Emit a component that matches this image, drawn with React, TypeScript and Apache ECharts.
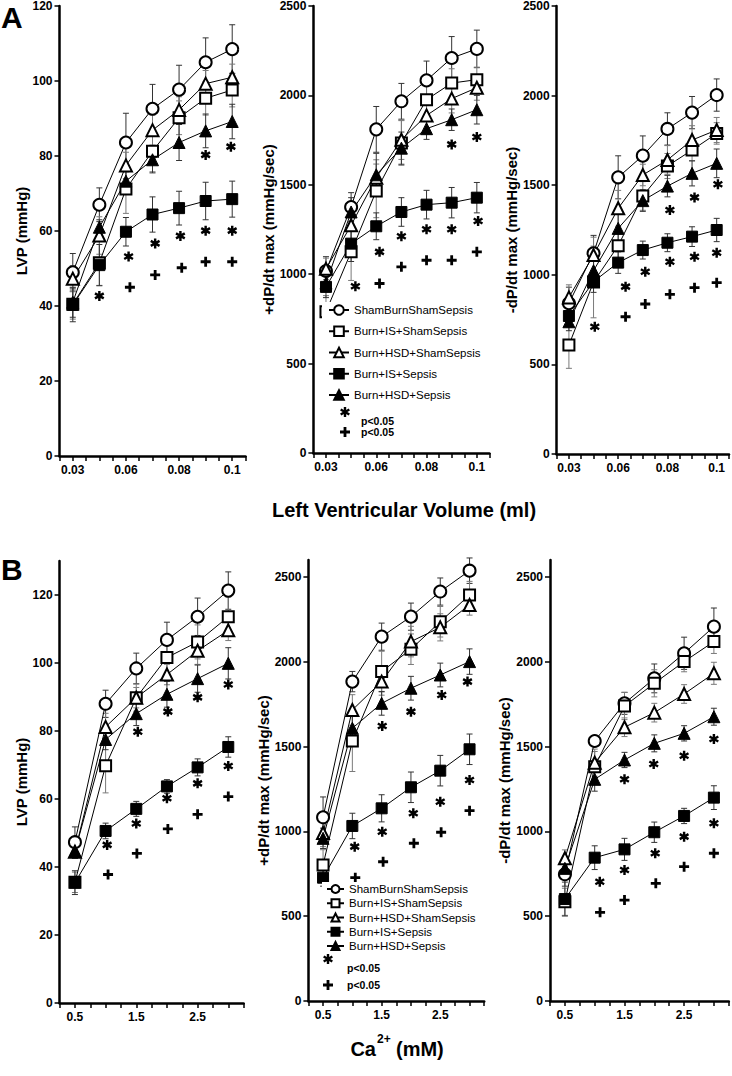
import React, { useEffect, useRef } from 'react';
import * as echarts from 'echarts';

const FONT = "'Liberation Sans', Arial, Helvetica, sans-serif";

// ---------- categories / tick labels ----------
const seriesNames = [
  'ShamBurnShamSepsis',
  'Burn+IS+ShamSepsis',
  'Burn+HSD+ShamSepsis',
  'Burn+IS+Sepsis',
  'Burn+HSD+Sepsis',
];
const volumeTicks = ['0.03', '', '0.06', '', '0.08', '', '0.1'];
const calciumTicks = ['0.5', '', '1.5', '', '2.5', ''];
const lvpTicksB = [0, 20, 40, 60, 80, 100, 120];
const dpTicksB = [0, 500, 1000, 1500, 2000, 2500];

// ---------- Panel A: LVP ----------
const a1Sham = [49, 67, 83.6, 92.6, 97.7, 105, 108.5];
const a1IsSham = [40.5, 51.5, 71.2, 81.3, 90.2, 95.4, 97.6];
const a1HsdSham = [47.3, 58.8, 77.5, 86.9, 92.3, 99.3, 101];
const a1IsSepsis = [40.3, 50.9, 59.8, 64.4, 66.1, 68, 68.5];
const a1HsdSepsis = [41, 61, 73.3, 79, 83.6, 86.7, 89.2];
const a1ShamErr = [5, 4.5, 7.8, 6.5, 6.5, 6.5, 6.5];
const a1IsShamErr = [4, 6, 6.5, 5.5, 4.5, 4.5, 4.5];
const a1HsdShamErr = [3.5, 5, 3.5, 4, 3.5, 3.5, 3.5];
const a1IsSepsisErr = [4.5, 5.5, 3.8, 4.7, 4.5, 5, 4.8];
const a1HsdSepsisErr = [4, 2, 3, 3.5, 4.8, 4.5, 4.6];
const a1Star = [[1, 42.7], [2.1, 53.2], [3.1, 56.7], [4.05, 58.7], [5, 60.1], [6, 60.1], [5, 80.3], [5.95, 82.5]];
const a1Plus = [[2.15, 45], [3.1, 48.3], [4.1, 50.2], [5, 51.8], [6, 51.8]];

// ---------- Panel A: +dP/dt ----------
const a2Sham = [1018, 1376, 1810, 1967, 2084, 2209, 2260];
const a2IsSham = [790, 1125, 1466, 1734, 1976, 2069, 2088];
const a2HsdSham = [1030, 1274, 1540, 1752, 1888, 1982, 2043];
const a2IsSepsis = [929, 1171, 1268, 1348, 1389, 1400, 1428];
const a2HsdSepsis = [950, 1348, 1556, 1705, 1814, 1864, 1920];
const a2ShamErr = [80, 80, 128, 100, 108, 120, 105];
const a2IsShamErr = [90, 160, 150, 125, 100, 80, 70];
const a2HsdShamErr = [60, 110, 100, 110, 80, 80, 70];
const a2IsSepsisErr = [60, 100, 75, 80, 80, 85, 85];
const a2HsdSepsisErr = [40, 80, 120, 90, 60, 60, 80];
const a2Star = [[1.17, 933], [2.13, 1125], [3, 1212], [4, 1251], [5, 1251], [6.05, 1298], [5, 1726], [6, 1767]];
const a2Plus = [[2.13, 948], [3, 1041], [4, 1078], [5, 1078], [6, 1125]];

// ---------- Panel A: -dP/dt ----------
const a3Sham = [841, 1120, 1544, 1665, 1814, 1905, 2003];
const a3IsSham = [608, 960, 1162, 1440, 1607, 1696, 1789];
const a3HsdSham = [874, 1110, 1371, 1557, 1641, 1752, 1808];
const a3IsSepsis = [770, 962, 1068, 1138, 1179, 1213, 1250];
const a3HsdSepsis = [738, 1023, 1259, 1414, 1495, 1566, 1622];
const a3ShamErr = [90, 100, 120, 110, 90, 90, 90];
const a3IsShamErr = [130, 200, 80, 80, 70, 60, 60];
const a3HsdShamErr = [70, 100, 100, 60, 80, 80, 70];
const a3IsSepsisErr = [60, 60, 60, 50, 50, 55, 65];
const a3HsdSepsisErr = [50, 60, 80, 60, 60, 70, 80];
const a3Star = [[1.05, 710], [2.3, 934], [3.1, 1017], [4.1, 1073], [5.1, 1101], [6, 1123], [4.1, 1362], [5.1, 1432], [6.05, 1505]];
const a3Plus = [[2.3, 766], [3.1, 837], [4.1, 891], [5.1, 928], [6, 956]];

// ---------- Panel B: LVP ----------
const b1Sham = [47.3, 88, 98.4, 106.8, 113.6, 121.3];
const b1IsSham = [35.5, 69.8, 89.8, 101.6, 106.2, 113.6];
const b1HsdSham = [44.5, 81.2, 89.8, 96.6, 103.6, 109.6];
const b1IsSepsis = [35.4, 50.6, 57.1, 63.7, 69.3, 75.3];
const b1HsdSepsis = [44.6, 77.5, 85.1, 90.8, 95.4, 99.9];
const b1ShamErr = [4.5, 4, 4.5, 5.2, 5.5, 5.5];
const b1IsShamErr = [3, 8, 4, 4.5, 5, 5.8];
const b1HsdShamErr = [2, 4, 3, 3, 4, 3];
const b1IsSepsisErr = [3.5, 2.3, 2.2, 2, 2.5, 3];
const b1HsdSepsisErr = [2, 3, 3.5, 3.8, 4, 4.6];
const b1Star = [[1.05, 46.5], [2, 52.8], [3, 60.2], [4, 64.6], [5, 69.7], [2.05, 79.8], [3.03, 85.7], [4, 89.9], [5, 93.7]];
const b1Plus = [[1.08, 37.8], [2.02, 44], [3.03, 51.2], [4, 55.5], [5, 60.7]];

// ---------- Panel B: +dP/dt ----------
const b2Sham = [1083, 1883, 2148, 2266, 2414, 2537];
const b2IsSham = [802, 1533, 1942, 2074, 2236, 2394];
const b2HsdSham = [990, 1716, 1883, 2119, 2203, 2335];
const b2IsSepsis = [727, 1032, 1136, 1260, 1358, 1484];
const b2HsdSepsis = [959, 1608, 1755, 1844, 1922, 2001];
const b2ShamErr = [120, 60, 80, 80, 80, 75];
const b2IsShamErr = [90, 180, 120, 90, 90, 80];
const b2HsdShamErr = [80, 90, 80, 90, 80, 60];
const b2IsSepsisErr = [50, 75, 80, 90, 90, 90];
const b2HsdSepsisErr = [60, 70, 70, 70, 70, 75];
const b2Star = [[1.08, 910], [2.02, 998], [3.08, 1107], [4, 1175], [5, 1303], [2.02, 1621], [3, 1706], [4.05, 1804], [4.93, 1883]];
const b2Plus = [[1.1, 727], [2.05, 821], [3.1, 930], [4.03, 995], [5, 1122]];

// ---------- Panel B: -dP/dt ----------
const b3Sham = [747, 1533, 1755, 1902, 2050, 2207];
const b3IsSham = [585, 1381, 1739, 1873, 2001, 2119];
const b3HsdSham = [841, 1405, 1614, 1700, 1810, 1932];
const b3IsSepsis = [601, 845, 894, 995, 1091, 1199];
const b3HsdSepsis = [782, 1307, 1421, 1519, 1578, 1676];
const b3ShamErr = [70, 30, 65, 85, 95, 110];
const b3IsShamErr = [80, 90, 80, 80, 60, 70];
const b3HsdShamErr = [50, 80, 55, 55, 55, 65];
const b3IsSepsisErr = [100, 70, 65, 60, 45, 70];
const b3HsdSepsisErr = [50, 70, 45, 50, 45, 50];
const b3Star = [[1.17, 703], [2, 772], [3.03, 871], [4, 969], [5, 1048], [2, 1307], [2.98, 1397], [4, 1446], [5, 1545]];
const b3Plus = [[1.18, 523], [2, 595], [3.05, 694], [4, 792], [5, 871]];

// ---------- marks ----------
const ASTERISK =
  'M3.8,0L6.2,0L6.2,10L3.8,10Z M8.73,1.46L9.93,3.54L1.27,8.54L0.07,6.46Z M9.93,6.46L8.73,8.54L0.07,3.54L1.27,1.46Z';
const PLUS = 'M3.6,0L6.4,0L6.4,3.6L10,3.6L10,6.4L6.4,6.4L6.4,10L3.6,10L3.6,6.4L0,6.4L0,3.6L3.6,3.6Z';

try {
  echarts.graphic.registerShape('asteriskMark', echarts.graphic.extendPath(ASTERISK, {}));
  echarts.graphic.registerShape('plusMark', echarts.graphic.extendPath(PLUS, {}));
} catch (e) {
  /* already registered */
}

const symbols = ['emptyCircle', 'emptyRect', 'emptyTriangle', 'rect', 'triangle'];
const symbolSizes = [12, 11, 12, 11, 12];
const errColors = ['#333', '#7a7a7a', '#7a7a7a', '#333', '#333'];

const panels = [
  {
    grid: { left: 59.5, top: 6, width: 186, height: 450 },
    yMax: 120, yStep: 20, yTicks: null, xMax: 6.5, xLabels: volumeTicks,
    yName: 'LVP (mmHg)', nameGap: 22,
    values: [a1Sham, a1IsSham, a1HsdSham, a1IsSepsis, a1HsdSepsis],
    errors: [a1ShamErr, a1IsShamErr, a1HsdShamErr, a1IsSepsisErr, a1HsdSepsisErr],
    stars: a1Star, plus: a1Plus,
  },
  {
    grid: { left: 313.4, top: 5.5, width: 176, height: 447.5 },
    yMax: 2500, yStep: 500, yTicks: null, xMax: 6.5, xLabels: volumeTicks,
    yName: '+dP/dt max (mmHg/sec)', nameGap: 31,
    values: [a2Sham, a2IsSham, a2HsdSham, a2IsSepsis, a2HsdSepsis],
    errors: [a2ShamErr, a2IsShamErr, a2HsdShamErr, a2IsSepsisErr, a2HsdSepsisErr],
    stars: a2Star, plus: a2Plus,
  },
  {
    grid: { left: 556.6, top: 6, width: 174, height: 448 },
    yMax: 2500, yStep: 500, yTicks: null, xMax: 6.5, xLabels: volumeTicks,
    yName: '-dP/dt max (mmHg/sec)', nameGap: 37,
    values: [a3Sham, a3IsSham, a3HsdSham, a3IsSepsis, a3HsdSepsis],
    errors: [a3ShamErr, a3IsShamErr, a3HsdShamErr, a3IsSepsisErr, a3HsdSepsisErr],
    stars: a3Star, plus: a3Plus,
  },
  {
    grid: { left: 59.6, top: 561, width: 184, height: 442 },
    yMax: 130, yStep: 20, yTicks: lvpTicksB, xMax: 5.5, xLabels: calciumTicks,
    yName: 'LVP (mmHg)', nameGap: 27,
    values: [b1Sham, b1IsSham, b1HsdSham, b1IsSepsis, b1HsdSepsis],
    errors: [b1ShamErr, b1IsShamErr, b1HsdShamErr, b1IsSepsisErr, b1HsdSepsisErr],
    stars: b1Star, plus: b1Plus,
  },
  {
    grid: { left: 308.4, top: 560, width: 175.8, height: 441 },
    yMax: 2600, yStep: 500, yTicks: dpTicksB, xMax: 5.5, xLabels: calciumTicks,
    yName: '+dP/dt max (mmHg/sec)', nameGap: 30,
    values: [b2Sham, b2IsSham, b2HsdSham, b2IsSepsis, b2HsdSepsis],
    errors: [b2ShamErr, b2IsShamErr, b2HsdShamErr, b2IsSepsisErr, b2HsdSepsisErr],
    stars: b2Star, plus: b2Plus,
  },
  {
    grid: { left: 550, top: 560, width: 178.8, height: 441 },
    yMax: 2600, yStep: 500, yTicks: dpTicksB, xMax: 5.5, xLabels: calciumTicks,
    yName: '-dP/dt max (mmHg/sec)', nameGap: 31,
    values: [b3Sham, b3IsSham, b3HsdSham, b3IsSepsis, b3HsdSepsis],
    errors: [b3ShamErr, b3IsShamErr, b3HsdShamErr, b3IsSepsisErr, b3HsdSepsisErr],
    stars: b3Star, plus: b3Plus,
  },
];

function buildOption() {
  const axisLabelBase = { color: '#000', fontWeight: 'bold', fontSize: 12, fontFamily: FONT };
  const xAxis = panels.map((p, i) => ({
    gridIndex: i,
    type: 'value',
    min: -0.5,
    max: p.xMax,
    interval: 0.5,
    axisLine: { show: true, onZero: false, lineStyle: { color: '#000', width: 2.5 } },
    axisTick: { show: true, length: 5, lineStyle: { color: '#000', width: 1.5 } },
    axisLabel: {
      ...axisLabelBase,
      margin: 8,
      showMinLabel: true,
      showMaxLabel: true,
      formatter: (v: number) => {
        const r = Math.round(v);
        if (Math.abs(v - r) > 1e-6 || r < 0) return '';
        return p.xLabels[r] ?? '';
      },
    },
    splitLine: { show: false },
  }));
  const yAxis = panels.map((p, i) => {
    const limit = p.yTicks ? p.yTicks[p.yTicks.length - 1] : p.yMax;
    const tickExtra: any = p.yTicks ? { customValues: p.yTicks } : {};
    return {
      gridIndex: i,
      type: 'value',
      min: 0,
      max: p.yMax,
      interval: p.yStep,
      name: p.yName,
      nameLocation: 'middle',
      nameGap: p.nameGap,
      nameTextStyle: { fontSize: 15, fontWeight: 'bold', color: '#000', fontFamily: FONT },
      axisLine: { show: true, onZero: false, lineStyle: { color: '#000', width: 2.5 } },
      axisTick: { show: true, length: 5, lineStyle: { color: '#000', width: 1.5 }, ...tickExtra },
      axisLabel: {
        ...axisLabelBase,
        margin: 7,
        ...tickExtra,
        formatter: (v: number) => (v > limit + 1e-6 ? '' : String(v)),
      },
      splitLine: { show: false },
    };
  });

  const series: any[] = [];
  panels.forEach((p, i) => {
    const errData: any[] = [];
    p.values.forEach((vals, s) => {
      vals.forEach((v, j) => {
        const e = p.errors[s][j];
        errData.push([j, v - e, v + e, s]);
      });
    });
    series.push({
      type: 'custom',
      xAxisIndex: i,
      yAxisIndex: i,
      z: 2,
      silent: true,
      encode: { x: 0, y: [1, 2] },
      data: errData,
      renderItem: (params: any, api: any) => {
        const x = api.value(0);
        const lo = api.coord([x, api.value(1)]);
        const hi = api.coord([x, api.value(2)]);
        const c = errColors[api.value(3)];
        const w = 3;
        const style = { stroke: c, lineWidth: 1 };
        return {
          type: 'group',
          children: [
            { type: 'line', shape: { x1: lo[0], y1: lo[1], x2: hi[0], y2: hi[1] }, style },
            { type: 'line', shape: { x1: lo[0] - w, y1: lo[1], x2: lo[0] + w, y2: lo[1] }, style },
            { type: 'line', shape: { x1: hi[0] - w, y1: hi[1], x2: hi[0] + w, y2: hi[1] }, style },
          ],
        };
      },
    });
    p.values.forEach((vals, s) => {
      series.push({
        type: 'line',
        name: seriesNames[s],
        xAxisIndex: i,
        yAxisIndex: i,
        z: 3,
        data: vals.map((v, j) => [j, v]),
        symbol: symbols[s],
        symbolSize: symbolSizes[s],
        showAllSymbol: true,
        itemStyle: { color: '#000', borderColor: '#000', borderWidth: 1 },
        lineStyle: { color: '#000', width: 1 },
        emphasis: { disabled: true },
      });
    });
    series.push({
      type: 'scatter',
      xAxisIndex: i,
      yAxisIndex: i,
      z: 4,
      silent: true,
      symbol: 'path://' + ASTERISK,
      symbolSize: 10,
      itemStyle: { color: '#000', opacity: 1 },
      emphasis: { disabled: true },
      data: p.stars,
    });
    series.push({
      type: 'scatter',
      xAxisIndex: i,
      yAxisIndex: i,
      z: 4,
      silent: true,
      symbol: 'path://' + PLUS,
      symbolSize: 10,
      itemStyle: { color: '#000', opacity: 1 },
      emphasis: { disabled: true },
      data: p.plus,
    });
  });

  const legendText = { fontSize: 11.5, color: '#000', fontFamily: FONT };
  const legend = [
    {
      data: seriesNames,
      orient: 'vertical',
      left: 322,
      top: 302,
      padding: [2, 4, 2, 6],
      itemWidth: 20,
      itemHeight: 12,
      itemGap: 9.25,
      backgroundColor: '#fff',
      selectedMode: false,
      textStyle: legendText,
      z: 10,
    },
    {
      data: seriesNames,
      orient: 'vertical',
      left: 322,
      top: 882,
      padding: [1, 3, 1, 4],
      itemWidth: 17,
      itemHeight: 10,
      itemGap: 2.25,
      backgroundColor: '#fff',
      selectedMode: false,
      textStyle: legendText,
      z: 10,
    },
  ];

  const bold = (size: number) => ({ fontSize: size, fontWeight: 'bold', fontFamily: FONT, fill: '#000' });
  const txt = (x: number, y: number, text: string, size: number, align = 'left') => ({
    type: 'text',
    x,
    y,
    z: 20,
    style: { text, ...bold(size), align, verticalAlign: 'middle', textAlign: align, textVerticalAlign: 'middle' },
  });
  const mark = (shape: string, cx: number, cy: number, size: number) => ({
    type: shape,
    x: cx - size / 2,
    y: cy - size / 2,
    scaleX: size / 10,
    scaleY: size / 10,
    z: 20,
    style: { fill: '#000' },
  });

  const graphic = [
    txt(1, 17, 'A', 30),
    txt(1, 569, 'B', 30),
    txt(404, 510, 'Left Ventricular Volume (ml)', 20, 'center'),
    txt(376, 1049, 'Ca', 20, 'right'),
    txt(377, 1039, '2+', 12),
    txt(396, 1049, '(mM)', 20),
    mark('asteriskMark', 345, 412, 10),
    txt(361, 421, 'p<0.05', 10.5),
    mark('plusMark', 345, 432, 10),
    txt(361, 432, 'p<0.05', 10.5),
    mark('asteriskMark', 328, 959, 10),
    txt(347, 968, 'p<0.05', 10.5),
    mark('plusMark', 328, 985, 10),
    txt(347, 985, 'p<0.05', 10.5),
  ];

  return {
    animation: false,
    backgroundColor: '#fff',
    textStyle: { fontFamily: FONT },
    grid: panels.map((p) => ({ ...p.grid, containLabel: false })),
    xAxis,
    yAxis,
    legend,
    series,
    graphic,
  };
}

export default function App() {
  const ref = useRef<HTMLDivElement>(null);
  useEffect(() => {
    if (!ref.current) return;
    const chart = echarts.init(ref.current, undefined, { renderer: 'svg' });
    chart.setOption(buildOption() as any);
    return () => chart.dispose();
  }, []);
  return (
    <div
      ref={ref}
      style={{ position: 'fixed', left: 0, top: 0, width: 732, height: 1076, background: '#fff' }}
    />
  );
}
